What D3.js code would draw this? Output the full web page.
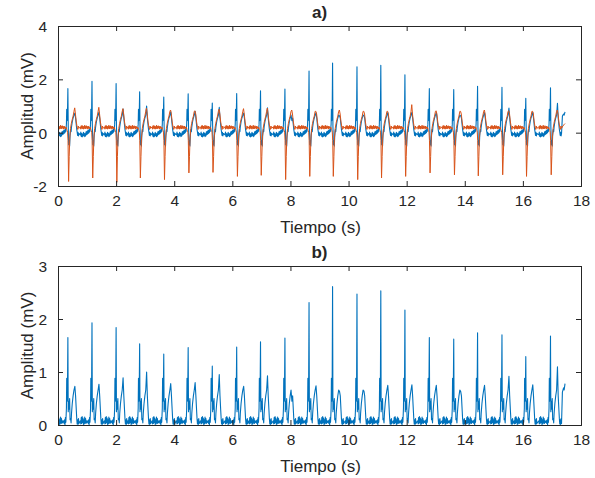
<!DOCTYPE html>
<html>
<head>
<meta charset="utf-8">
<script src="https://cdn.jsdelivr.net/npm/d3@7"></script>
<style>
  html, body { margin: 0; padding: 0; background: #ffffff; }
  svg { display: block; }
  text { font-family: "Liberation Sans", Arial, Helvetica, sans-serif; fill: #262626; }
</style>
</head>
<body>
<svg id="chart" width="595" height="478"></svg>
<script>
// ---------------- DATA ----------------
// R-peak times of each heartbeat (s)
const beatTimes = [0.34, 1.17, 2.00, 2.81, 3.64, 4.48, 5.31, 6.15, 6.97, 7.81,
                   8.64, 9.45, 10.29, 11.11, 11.94, 12.78, 13.62, 14.44, 15.28, 16.10, 16.95];
// blue lead: R-peak amplitude per beat (mV)
const blueR = [1.65, 1.93, 1.84, 1.53, 1.34, 1.46, 1.11, 1.47, 1.57, 1.64,
               2.31, 2.61, 2.47, 2.53, 2.17, 1.65, 1.62, 1.74, 1.70, 1.29, 1.68];
// blue lead: T-wave amplitude per beat (mV)
const blueT = [0.73, 0.77, 0.89, 1.00, 0.78, 0.80, 0.95, 0.73, 0.93, 0.45,
               0.74, 0.63, 0.64, 0.75, 0.76, 0.75, 0.63, 0.75, 0.92, 0.76, 1.10];
// orange lead: negative spike per beat (mV)
const orangeS = [-1.83, -1.70, -1.86, -1.70, -1.76, -1.51, -1.49, -1.64, -1.60, -1.76,
                 -1.64, -1.64, -1.76, -1.70, -1.64, -1.51, -1.58, -1.62, -1.58, -1.64, -1.58];
// orange lead: T-wave amplitude per beat (mV)
const orangeT = [0.93, 0.95, 0.90, 0.92, 0.85, 0.82, 0.88, 0.90, 0.92, 0.85,
                 0.80, 0.85, 0.80, 0.80, 1.05, 0.82, 0.80, 0.85, 0.82, 0.80, 0.85];

// beat shape of the blue lead: [time offset from R (s), value (mV) or per-beat key]
const blueShape = [
  [-0.40, -0.08], [-0.385, 0.02], [-0.37, -0.14], [-0.355, -0.03], [-0.34, -0.16],
  [-0.325, -0.05], [-0.31, -0.13], [-0.295, 0.01], [-0.28, -0.10], [-0.265, -0.02],
  [-0.25, -0.15], [-0.235, -0.04], [-0.22, -0.12], [-0.205, 0.03], [-0.19, -0.08],
  [-0.175, 0.05], [-0.16, -0.06], [-0.145, 0.08], [-0.13, -0.03], [-0.115, 0.10],
  [-0.10, 0.00], [-0.085, 0.14], [-0.07, 0.05], [-0.06, 0.18], [-0.05, 0.32], [-0.04, 0.88],
  [-0.03, 0.45], [-0.015, 0.62], [0, "R"], [0.012, 0.25], [0.028, -0.45],
  [0.045, -0.30], [0.06, -0.50], [0.075, -0.10], [0.095, 0.12], [0.11, 0.04], [0.125, 0.22],
  [0.15, 0.40], [0.18, 0.55], [0.21, 0.66], [0.24, "T"], [0.265, 0.55],
  [0.29, 0.28], [0.305, 0.12], [0.32, 0.02], [0.335, -0.10], [0.35, 0.01], [0.365, -0.12], [0.38, -0.03]
];
// beat shape of the orange lead
const orangeShape = [
  [-0.40, 0.22], [-0.385, 0.13], [-0.37, 0.26], [-0.355, 0.16], [-0.34, 0.27],
  [-0.325, 0.15], [-0.31, 0.25], [-0.295, 0.13], [-0.28, 0.23], [-0.265, 0.16],
  [-0.25, 0.28], [-0.235, 0.14], [-0.22, 0.24], [-0.205, 0.15], [-0.19, 0.26],
  [-0.175, 0.17], [-0.16, 0.23], [-0.145, 0.13], [-0.13, 0.25], [-0.115, 0.16],
  [-0.10, 0.22], [-0.08, 0.15], [-0.06, 0.20], [-0.04, 0.12], [-0.025, 0.08],
  [-0.01, 0.02], [0.005, -0.30], [0.025, "S"], [0.045, -0.90], [0.065, -0.20],
  [0.09, 0.15], [0.12, 0.35], [0.15, 0.50], [0.18, 0.62], [0.21, 0.80],
  [0.235, "T"], [0.26, 0.70], [0.29, 0.40], [0.32, 0.20], [0.34, 0.12],
  [0.36, 0.25], [0.38, 0.16]
];
// last samples after the final beat
const blueTail = [[17.36, 0.62], [17.40, 0.70], [17.42, 0.66], [17.45, 0.78]];
const orangeTail = [[17.38, 0.26], [17.42, 0.30], [17.45, 0.34]];

// axis ticks
const xTicks = [0, 2, 4, 6, 8, 10, 12, 14, 16, 18];
const yTicksA = [-2, 0, 2, 4];
const yTicksB = [0, 1, 2, 3];

// ---------------- BUILD SERIES ----------------
function buildSeries(shape, perBeat, tail) {
  const pts = [];
  beatTimes.forEach((b, i) => {
    shape.forEach(([o, v]) => {
      const val = (typeof v === "string") ? perBeat[v][i] : v;
      pts.push([b + o, val]);
    });
  });
  return pts.filter(p => p[0] >= 0 && p[0] <= 17.45).concat(tail);
}
const blueSeries = buildSeries(blueShape, {R: blueR, T: blueT}, blueTail);
const orangeSeries = buildSeries(orangeShape, {S: orangeS, T: orangeT}, orangeTail);
const absSeries = blueSeries.map(p => [p[0], Math.abs(p[1])]);

// ---------------- DRAW ----------------
const svg = d3.select("#chart");
const left = 58, right = 581;
const axColor = "#262626";
const fmt = d => String(d);   // plain hyphen minus, like MATLAB

function panel(top, bottom, yDomain, yTicks, title, seriesList) {
  const x = d3.scaleLinear().domain([0, 18]).range([left, right]);
  const y = d3.scaleLinear().domain(yDomain).range([bottom, top]);
  const g = svg.append("g");

  const clipId = "clip" + top;
  svg.append("clipPath").attr("id", clipId)
    .append("rect").attr("x", left).attr("y", top)
    .attr("width", right - left).attr("height", bottom - top);

  const line = d3.line().x(d => x(d[0])).y(d => y(d[1]));
  seriesList.forEach(s => {
    g.append("path").datum(s.data)
      .attr("clip-path", `url(#${clipId})`)
      .attr("fill", "none").attr("stroke", s.color)
      .attr("stroke-width", s.width).attr("stroke-linejoin", "round")
      .attr("d", line);
  });

  // axes (MATLAB style box with inward ticks)
  const tl = 5;
  const bottomAx = d3.axisBottom(x).tickValues(xTicks).tickSize(-tl).tickFormat(fmt);
  const topAx = d3.axisTop(x).tickValues(xTicks).tickSize(-tl).tickFormat("");
  const leftAx = d3.axisLeft(y).tickValues(yTicks).tickSize(-tl).tickPadding(11).tickFormat(fmt);
  const rightAx = d3.axisRight(y).tickValues(yTicks).tickSize(-tl).tickFormat("");

  const gb = g.append("g").attr("transform", `translate(0,${bottom})`).call(bottomAx);
  const gt = g.append("g").attr("transform", `translate(0,${top})`).call(topAx);
  const gl = g.append("g").attr("transform", `translate(${left},0)`).call(leftAx);
  const gr = g.append("g").attr("transform", `translate(${right},0)`).call(rightAx);
  [gb, gt, gl, gr].forEach(a => {
    a.selectAll(".domain").attr("stroke", axColor).attr("stroke-width", 1);
    a.selectAll(".tick line").attr("stroke", axColor).attr("stroke-width", 1);
    a.selectAll("text").attr("fill", axColor)
      .style("font-family", '"Liberation Sans", Arial, sans-serif')
      .style("font-size", "15.5px");
  });
  gb.selectAll("text").attr("dy", "0.71em").attr("y", 9);
  gl.selectAll("text").attr("dy", "0.36em");

  // title
  svg.append("text").attr("x", (left + right) / 2).attr("y", top - 8)
    .attr("text-anchor", "middle").style("font-size", "17px").style("font-weight", "bold")
    .text(title);
  // x label
  svg.append("text").attr("x", (left + right) / 2 + 1).attr("y", bottom + 47)
    .attr("text-anchor", "middle").style("font-size", "17px")
    .text("Tiempo (s)");
  // y label
  svg.append("text")
    .attr("transform", `translate(33,${(top + bottom) / 2}) rotate(-90)`)
    .attr("text-anchor", "middle").style("font-size", "17px")
    .text("Amplitud (mV)");
}

panel(26, 186, [-2, 4], yTicksA, "a)", [
  {data: blueSeries, color: "#0072BD", width: 1.1},
  {data: orangeSeries, color: "#D95319", width: 1.0}
]);
panel(266, 425, [0, 3], yTicksB, "b)", [
  {data: absSeries, color: "#0072BD", width: 1.1}
]);
</script>
</body>
</html>
